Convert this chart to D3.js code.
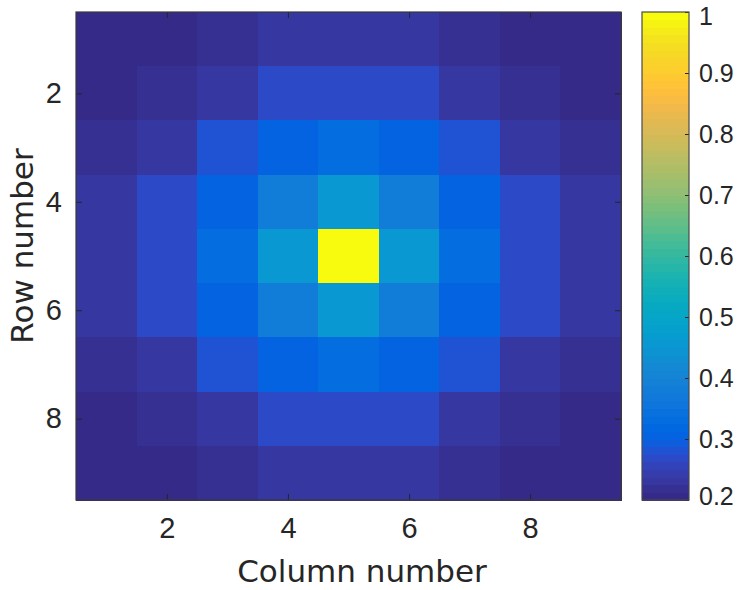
<!DOCTYPE html>
<html>
<head>
<meta charset="utf-8">
<script src="https://cdn.jsdelivr.net/npm/d3@7"></script>
<style>
  html, body { margin: 0; padding: 0; background: #fff; }
  svg { display: block; font-family: "DejaVu Sans", Verdana, sans-serif; }
</style>
</head>
<body>
<svg id="chart" width="741" height="590"></svg>
<script>
// Grid values, row by row (row 1 at the top), 9 x 9
const rowNumbers = [1, 2, 3, 4, 5, 6, 7, 8, 9];
const colNumbers = [1, 2, 3, 4, 5, 6, 7, 8, 9];
const row1 = [0.205, 0.205, 0.218, 0.232, 0.232, 0.232, 0.218, 0.205, 0.205];
const row2 = [0.205, 0.218, 0.232, 0.268, 0.268, 0.268, 0.232, 0.218, 0.205];
const row3 = [0.218, 0.232, 0.282, 0.305, 0.330, 0.305, 0.282, 0.232, 0.218];
const row4 = [0.232, 0.268, 0.305, 0.380, 0.455, 0.380, 0.305, 0.268, 0.232];
const row5 = [0.232, 0.268, 0.330, 0.455, 1.000, 0.455, 0.330, 0.268, 0.232];
const row6 = [0.232, 0.268, 0.305, 0.380, 0.455, 0.380, 0.305, 0.268, 0.232];
const row7 = [0.218, 0.232, 0.282, 0.305, 0.330, 0.305, 0.282, 0.232, 0.218];
const row8 = [0.205, 0.218, 0.232, 0.268, 0.268, 0.268, 0.232, 0.218, 0.205];
const row9 = [0.205, 0.205, 0.218, 0.232, 0.232, 0.232, 0.218, 0.205, 0.205];
const gridRows = [row1, row2, row3, row4, row5, row6, row7, row8, row9];

const axisTicks = [2, 4, 6, 8];
const colorTicks = [0.2, 0.3, 0.4, 0.5, 0.6, 0.7, 0.8, 0.9, 1];
const colorLimits = [0.2, 1];
const xLabel = "Column number";
const yLabel = "Row number";

// Parula colormap, 64 entries
const parula = [
[0.2081,0.1663,0.5292],[0.2116,0.1898,0.5777],[0.2123,0.2138,0.6270],[0.2081,0.2386,0.6771],
[0.1959,0.2645,0.7279],[0.1707,0.2919,0.7792],[0.1253,0.3242,0.8303],[0.0591,0.3598,0.8683],
[0.0117,0.3875,0.8820],[0.0060,0.4086,0.8828],[0.0165,0.4266,0.8786],[0.0329,0.4430,0.8720],
[0.0498,0.4586,0.8641],[0.0629,0.4737,0.8554],[0.0723,0.4887,0.8467],[0.0779,0.5040,0.8384],
[0.0793,0.5200,0.8312],[0.0749,0.5375,0.8263],[0.0641,0.5570,0.8240],[0.0488,0.5772,0.8228],
[0.0343,0.5966,0.8199],[0.0265,0.6137,0.8135],[0.0239,0.6287,0.8038],[0.0231,0.6418,0.7913],
[0.0228,0.6535,0.7768],[0.0267,0.6642,0.7607],[0.0384,0.6743,0.7436],[0.0590,0.6838,0.7254],
[0.0843,0.6928,0.7062],[0.1133,0.7015,0.6859],[0.1453,0.7098,0.6646],[0.1801,0.7177,0.6424],
[0.2178,0.7250,0.6193],[0.2586,0.7317,0.5954],[0.3022,0.7376,0.5712],[0.3482,0.7424,0.5473],
[0.3953,0.7459,0.5244],[0.4420,0.7481,0.5033],[0.4871,0.7491,0.4840],[0.5300,0.7491,0.4661],
[0.5709,0.7485,0.4494],[0.6099,0.7473,0.4337],[0.6473,0.7456,0.4188],[0.6834,0.7435,0.4044],
[0.7184,0.7411,0.3905],[0.7525,0.7384,0.3768],[0.7858,0.7356,0.3633],[0.8185,0.7327,0.3498],
[0.8507,0.7299,0.3360],[0.8824,0.7274,0.3217],[0.9139,0.7258,0.3063],[0.9450,0.7261,0.2886],
[0.9739,0.7314,0.2666],[0.9938,0.7455,0.2403],[0.9990,0.7653,0.2164],[0.9955,0.7861,0.1967],
[0.9880,0.8066,0.1794],[0.9789,0.8271,0.1633],[0.9697,0.8481,0.1475],[0.9626,0.8705,0.1309],
[0.9589,0.8949,0.1132],[0.9598,0.9218,0.0948],[0.9661,0.9514,0.0755],[0.9763,0.9831,0.0538]
].map(c => d3.rgb(c[0] * 255, c[1] * 255, c[2] * 255).formatHex());

// Discrete colour lookup (scaled mapping onto the 64 colormap rows)
const color = d3.scaleQuantize().domain(colorLimits).range(parula);

const svg = d3.select("#chart");
const ink = "#262626";

const plot = { left: 76, right: 621, top: 12, bottom: 500 };
const x = d3.scaleLinear().domain([0.5, 9.5]).range([plot.left, plot.right]);
const y = d3.scaleLinear().domain([0.5, 9.5]).range([plot.top, plot.bottom]);

// Cells
const cells = [];
gridRows.forEach((vals, r) => vals.forEach((v, c) => cells.push({ row: rowNumbers[r], col: colNumbers[c], v })));
svg.append("g").selectAll("rect").data(cells).join("rect")
  .attr("x", d => x(d.col - 0.5))
  .attr("y", d => y(d.row - 0.5))
  .attr("width", d => x(d.col + 0.5) - x(d.col - 0.5) + 0.5)
  .attr("height", d => y(d.row + 0.5) - y(d.row - 0.5) + 0.5)
  .attr("fill", d => color(Math.min(d.v, colorLimits[1] - 1e-9)))
  .attr("shape-rendering", "crispEdges");

// Axes with inward ticks on all four sides
const tickLen = 6;
function styleAxis(g) {
  g.select(".domain").remove();
  g.selectAll(".tick line").attr("stroke", ink).attr("stroke-width", 1);
  g.selectAll(".tick text").attr("fill", ink).attr("font-size", 29);
}
svg.append("g").attr("transform", `translate(0,${plot.bottom})`)
  .call(d3.axisBottom(x).tickValues(axisTicks).tickFormat(d3.format("d")).tickSizeInner(-tickLen).tickSizeOuter(0).tickPadding(17))
  .call(styleAxis)
  .call(g => g.selectAll(".tick text").attr("dy", "0.71em"));
svg.append("g").attr("transform", `translate(0,${plot.top})`)
  .call(d3.axisTop(x).tickValues(axisTicks).tickSizeInner(-tickLen).tickSizeOuter(0).tickFormat(""))
  .call(styleAxis);
svg.append("g").attr("transform", `translate(${plot.left},0)`)
  .call(d3.axisLeft(y).tickValues(axisTicks).tickFormat(d3.format("d")).tickSizeInner(-tickLen).tickSizeOuter(0).tickPadding(14))
  .call(styleAxis);
svg.append("g").attr("transform", `translate(${plot.right},0)`)
  .call(d3.axisRight(y).tickValues(axisTicks).tickSizeInner(-tickLen).tickSizeOuter(0).tickFormat(""))
  .call(styleAxis);

// Plot frame
svg.append("rect")
  .attr("x", plot.left).attr("y", plot.top)
  .attr("width", plot.right - plot.left).attr("height", plot.bottom - plot.top)
  .attr("fill", "none").attr("stroke", "#3a3a3a").attr("stroke-width", 1.2);

// Axis titles
svg.append("text")
  .attr("x", 362).attr("y", 582)
  .attr("text-anchor", "middle").attr("font-size", 31).attr("fill", ink)
  .text(xLabel);
svg.append("text")
  .attr("transform", "translate(33,246) rotate(-90)")
  .attr("text-anchor", "middle").attr("font-size", 31).attr("fill", ink)
  .text(yLabel);

// Colorbar
const cb = { left: 642, right: 689, top: 12, bottom: 500 };
const cScale = d3.scaleLinear().domain(colorLimits).range([cb.bottom, cb.top]);
const step = (colorLimits[1] - colorLimits[0]) / parula.length;
svg.append("g").selectAll("rect").data(parula).join("rect")
  .attr("x", cb.left)
  .attr("width", cb.right - cb.left)
  .attr("y", (d, i) => cScale(colorLimits[0] + (i + 1) * step))
  .attr("height", (d, i) => cScale(colorLimits[0] + i * step) - cScale(colorLimits[0] + (i + 1) * step) + 0.6)
  .attr("fill", d => d)
  .attr("shape-rendering", "crispEdges");

svg.append("g").attr("transform", `translate(${cb.right},0)`)
  .call(d3.axisRight(cScale).tickValues(colorTicks).tickFormat(d3.format("~g")).tickSizeInner(-4).tickSizeOuter(0).tickPadding(10))
  .call(g => {
    g.select(".domain").remove();
    g.selectAll(".tick line").attr("stroke", ink).attr("stroke-width", 1);
    g.selectAll(".tick text").attr("fill", ink).attr("font-size", 25)
      // keep the end labels inside the figure edges
      .attr("dy", d => d === colorLimits[1] ? "0.48em" : d === colorLimits[0] ? "0.18em" : "0.32em");
  });

svg.append("rect")
  .attr("x", cb.left).attr("y", cb.top)
  .attr("width", cb.right - cb.left).attr("height", cb.bottom - cb.top)
  .attr("fill", "none").attr("stroke", "#4a4a4a").attr("stroke-width", 1.2);
</script>
</body>
</html>
